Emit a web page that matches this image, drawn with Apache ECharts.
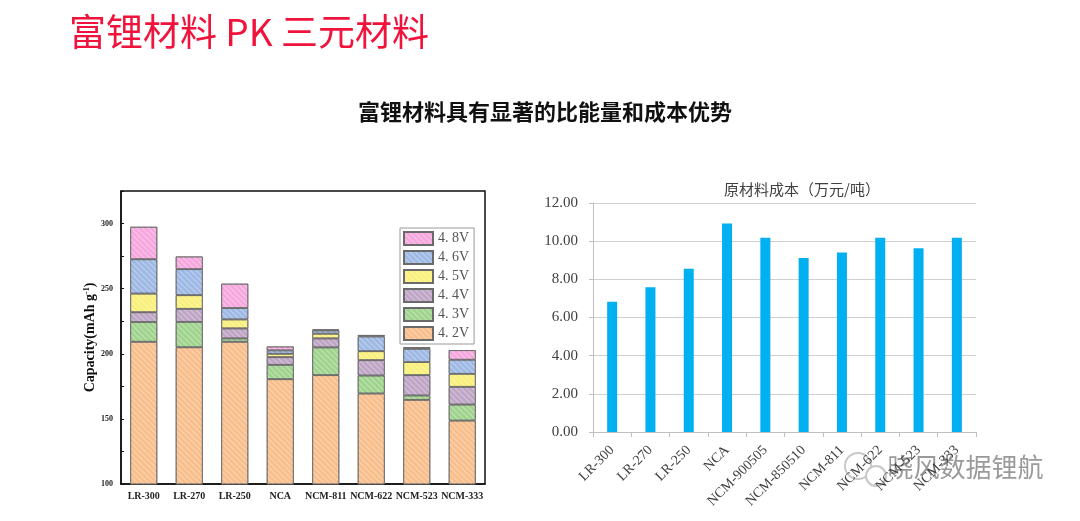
<html lang="zh">
<head>
    <meta charset="UTF-8">
    <title>富锂材料 PK 三元材料</title>
    <script src="https://cdn.jsdelivr.net/npm/echarts@6/dist/echarts.min.js"></script>
</head>
<body style="margin:0;background:#fff;">
    <div id="main" style="width:1080px;height:521px;"></div>
    <script type="text/javascript">
        // 左图：不同截止电压下的容量增量（堆叠）
        var capCategories = ['LR-300', 'LR-270', 'LR-250', 'NCA', 'NCM-811', 'NCM-622', 'NCM-523', 'NCM-333'];
        var cap42 = [209.2, 205.0, 209.2, 180.5, 183.6, 169.5, 164.6, 148.7];
        var cap43 = [15.2, 19.5, 2.6, 11.0, 21.3, 13.8, 3.4, 12.3];
        var cap44 = [7.5, 10.0, 7.7, 5.9, 6.9, 11.8, 15.6, 13.6];
        var cap45 = [14.3, 10.5, 6.9, 2.6, 3.6, 6.9, 10.0, 10.0];
        var cap46 = [26.4, 20.0, 8.7, 2.6, 2.5, 11.3, 10.2, 10.8];
        var cap48 = [24.9, 9.7, 18.7, 3.0, 0.8, 1.1, 1.3, 7.4];
        var voltNames = ['4.2V', '4.3V', '4.4V', '4.5V', '4.6V', '4.8V'];

        // 右图：原材料成本（万元/吨）
        var costCategories = ['LR-300', 'LR-270', 'LR-250', 'NCA', 'NCM-900505', 'NCM-850510', 'NCM-811', 'NCM-622', 'NCM-523', 'NCM-333'];
        var costValues = [6.82, 7.58, 8.55, 10.93, 10.18, 9.12, 9.41, 10.18, 9.63, 10.18];

        var capData = [cap42, cap43, cap44, cap45, cap46, cap48];
        var capColors = ['#F8BF8C', '#A0D48E', '#C0A6C6', '#F9F07C', '#9FB9E5', '#F6A8DE'];

        var myChart = echarts.init(document.getElementById('main'));

        var serif = '"Liberation Serif", "DejaVu Serif", serif';
        var cjk = '"Noto Sans CJK SC", "Noto Sans", sans-serif';

        var series = [];
        for (var i = 0; i < voltNames.length; i++) {
            series.push({
                name: voltNames[i],
                type: 'bar',
                stack: 'cap',
                xAxisIndex: 0,
                yAxisIndex: 0,
                barWidth: 27,
                data: capData[i],
                itemStyle: {
                    color: capColors[i],
                    borderColor: '#6a6a6a',
                    borderWidth: 0.8,
                    decal: {
                        symbol: 'rect',
                        dashArrayX: [1, 0],
                        dashArrayY: [1, 3],
                        rotation: Math.PI / 4,
                        color: 'rgba(255,255,255,0.35)'
                    }
                }
            });
        }
        series.push({
            name: '原材料成本',
            type: 'bar',
            xAxisIndex: 1,
            yAxisIndex: 1,
            barWidth: 10,
            data: costValues,
            itemStyle: { color: '#00B0F0' }
        });

        var option = {
            backgroundColor: '#fff',
            animation: false,
            title: [{
                text: '富锂材料 PK 三元材料',
                left: 64, top: 8,
                textStyle: { color: '#F0143C', fontSize: 37, fontWeight: 'normal', fontFamily: cjk }
            }, {
                text: '富锂材料具有显著的比能量和成本优势',
                left: 540, top: 96, textAlign: 'center',
                textStyle: { color: '#111', fontSize: 22, fontWeight: 'bold', fontFamily: cjk }
            }, {
                text: '原材料成本（万元/吨）',
                left: 797, top: 177, textAlign: 'center',
                textStyle: { color: '#404040', fontSize: 15, fontWeight: 'normal', fontFamily: cjk }
            }],
            legend: {
                data: voltNames.slice().reverse(),
                orient: 'vertical',
                left: 400, top: 228,
                icon: 'rect',
                itemWidth: 29, itemHeight: 13, itemGap: 4,
                padding: [3, 5, 3, 3],
                borderColor: '#999', borderWidth: 1,
                formatter: function (n) { return n.replace('.', '. '); },
                textStyle: { fontFamily: serif, fontSize: 14, color: '#555' }
            },
            grid: [
                { left: 121, top: 191, width: 364, height: 293, show: true, borderColor: '#111', borderWidth: 1.5 },
                { left: 593, top: 203, width: 383, height: 229 }
            ],
            xAxis: [{
                type: 'category',
                gridIndex: 0,
                data: capCategories,
                axisLine: { lineStyle: { color: '#111', width: 1.5 } },
                axisTick: { show: false },
                axisLabel: { fontFamily: serif, fontWeight: 'bold', fontSize: 10, color: '#222', margin: 7, interval: 0 }
            }, {
                type: 'category',
                gridIndex: 1,
                data: costCategories,
                axisLine: { lineStyle: { color: '#bfbfbf' } },
                axisTick: { show: true, length: 5, lineStyle: { color: '#bfbfbf' } },
                axisLabel: { fontFamily: serif, fontSize: 14, color: '#404040', rotate: 45, margin: 16, interval: 0 }
            }],
            yAxis: [{
                type: 'value',
                gridIndex: 0,
                min: 100, max: 325, interval: 25,
                name: 'Capacity(mAh g{sup|-1})',
                nameLocation: 'middle',
                nameGap: 24,
                nameRotate: 90,
                nameTextStyle: {
                    fontFamily: serif, fontWeight: 'bold', fontSize: 14, color: '#111',
                    rich: { sup: { fontFamily: serif, fontWeight: 'bold', fontSize: 8, verticalAlign: 'top', color: '#111', padding: [0, 0, 6, 0] } }
                },
                axisLine: { show: true, lineStyle: { color: '#111', width: 1.5 } },
                axisTick: { show: true, inside: true, length: 3, lineStyle: { color: '#111' } },
                splitLine: { show: false },
                axisLabel: {
                    fontFamily: serif, fontWeight: 'bold', fontSize: 8, color: '#222', margin: 8,
                    formatter: function (v) { return v % 50 === 0 ? v : ''; }
                }
            }, {
                type: 'value',
                gridIndex: 1,
                min: 0, max: 12, interval: 2,
                axisLine: { show: true, lineStyle: { color: '#bfbfbf' } },
                axisTick: { show: true, length: 4, lineStyle: { color: '#bfbfbf' } },
                splitLine: { lineStyle: { color: '#d0d0d0' } },
                axisLabel: {
                    fontFamily: serif, fontSize: 15, color: '#404040', margin: 15,
                    formatter: function (v) { return v.toFixed(2); }
                }
            }],
            graphic: [{
                type: 'circle',
                shape: { cx: 858, cy: 466, r: 13 },
                style: { fill: 'none', stroke: '#c8c8c8', lineWidth: 2 }
            }, {
                type: 'circle',
                shape: { cx: 876, cy: 476, r: 10 },
                style: { fill: '#fff', stroke: '#c8c8c8', lineWidth: 2 }
            }, {
                type: 'text',
                left: 887, top: 454,
                style: { text: '晓风数据锂航', fill: '#9a9a9a', stroke: '#fff', lineWidth: 1, font: '26px "Noto Sans CJK SC"' }
            }],
            series: series
        };
        myChart.setOption(option);
    </script>
</body>
</html>
